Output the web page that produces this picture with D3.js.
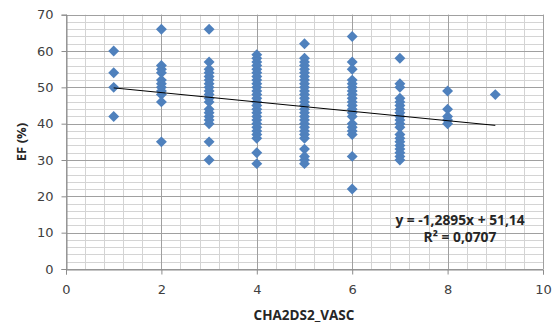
<!DOCTYPE html>
<html>
<head>
<meta charset="utf-8">
<script src="https://cdn.jsdelivr.net/npm/d3@7"></script>
<style>
  html, body { margin: 0; padding: 0; background: #fff; }
  svg { display: block; }
  text { font-family: "Open Sans", sans-serif; }
</style>
</head>
<body>
<svg id="chart" width="554" height="324"></svg>
<script>
// CHA2DS2-VASc score against ejection fraction (EF %)
const scores = [1, 2, 3, 4, 5, 6, 7, 8, 9];
const efByScore = [
  [60, 54, 50, 42],
  [66, 56, 55, 54, 52, 51, 50, 49, 48, 46, 35],
  [66, 57, 55, 54, 53, 52, 51, 50, 49, 48, 47, 46, 44, 43, 42, 41, 40, 35, 30],
  [59, 58, 57, 56, 55, 54, 53, 52, 51, 50, 49, 48, 47, 46, 45, 44, 43, 42, 41, 40, 39, 38, 37, 36, 32, 29],
  [62, 58, 57, 56, 55, 54, 53, 52, 51, 50, 49, 48, 47, 46, 45, 44, 43, 42, 41, 40, 39, 38, 37, 36, 33, 31, 30, 29],
  [64, 57, 55, 52, 51, 50, 49, 48, 47, 46, 45, 44, 43, 42, 40, 39, 38, 37, 31, 22],
  [58, 51, 50, 47, 46, 45, 44, 43, 42, 41, 40, 39, 37, 36, 35, 34, 33, 32, 31, 30],
  [49, 44, 42, 41, 40],
  [48]
];
const xTicks = [0, 2, 4, 6, 8, 10];
const yTicks = [0, 10, 20, 30, 40, 50, 60, 70];
const trendSlope = -1.2895;
const trendIntercept = 51.14;
const trendRange = [1, 9];
const equationLabel = "y = -1,2895x + 51,14";
const r2Label = "R² = 0,0707";
const xTitle = "CHA2DS2_VASC";
const yTitle = "EF (%)";

const points = [];
scores.forEach((s, i) => efByScore[i].forEach(v => points.push({ x: s, y: v })));

const svg = d3.select("#chart");
const plotLeft = 66, plotRight = 543, plotTop = 14.7, plotBottom = 269;

const x = d3.scaleLinear().domain([0, 10]).range([plotLeft, plotRight]);
const y = d3.scaleLinear().domain([0, 70]).range([plotBottom, plotTop]);
const px = v => Math.round(v) + 0.5;

const grid = svg.append("g");
// minor grid
d3.range(0, 70.001, 2).forEach(v => {
  grid.append("line").attr("x1", plotLeft).attr("x2", plotRight)
    .attr("y1", px(y(v))).attr("y2", px(y(v)))
    .attr("stroke", "#d4d4d4").attr("stroke-width", 1);
});
d3.range(0, 10.001, 0.4).forEach(v => {
  grid.append("line").attr("y1", plotTop).attr("y2", plotBottom)
    .attr("x1", px(x(v))).attr("x2", px(x(v)))
    .attr("stroke", "#d4d4d4").attr("stroke-width", 1);
});
// major grid
yTicks.forEach(v => {
  grid.append("line").attr("x1", plotLeft).attr("x2", plotRight)
    .attr("y1", px(y(v))).attr("y2", px(y(v)))
    .attr("stroke", "#a0a0a0").attr("stroke-width", 1);
});
xTicks.forEach(v => {
  grid.append("line").attr("y1", plotTop).attr("y2", plotBottom)
    .attr("x1", px(x(v))).attr("x2", px(x(v)))
    .attr("stroke", "#a0a0a0").attr("stroke-width", 1);
});

// axes
const yAxis = svg.append("g").attr("transform", `translate(${px(plotLeft)},0)`)
  .call(d3.axisLeft(y).tickValues(yTicks).tickSize(5).tickPadding(8).tickFormat(d3.format("d")));
const xAxis = svg.append("g").attr("transform", `translate(0,${px(plotBottom)})`)
  .call(d3.axisBottom(x).tickValues(xTicks).tickSize(5).tickPadding(10).tickFormat(d3.format("d")));
[yAxis, xAxis].forEach(a => {
  a.select(".domain").attr("stroke", "#8c8c8c");
  a.selectAll(".tick line").attr("stroke", "#8c8c8c");
  a.selectAll(".tick text").attr("fill", "#404040").attr("font-size", 13)
    .style("font-family", "'DejaVu Sans', sans-serif");
});

// data points
const diamond = d3.symbol().type(d3.symbolDiamond2).size(76);
svg.append("g").selectAll("path").data(points).join("path")
  .attr("d", diamond)
  .attr("transform", d => `translate(${x(d.x)},${y(d.y)})`)
  .attr("fill", "#4f81bd");

// linear trendline
svg.append("line")
  .attr("x1", x(trendRange[0])).attr("y1", y(trendSlope * trendRange[0] + trendIntercept))
  .attr("x2", x(trendRange[1])).attr("y2", y(trendSlope * trendRange[1] + trendIntercept))
  .attr("stroke", "#000").attr("stroke-width", 1);

// equation
svg.append("text").attr("x", 460).attr("y", 224.5).attr("text-anchor", "middle")
  .attr("font-size", 13.8).attr("font-weight", "bold").attr("fill", "#262626").text(equationLabel);
svg.append("text").attr("x", 460).attr("y", 242).attr("text-anchor", "middle")
  .attr("font-size", 13.8).attr("font-weight", "bold").attr("fill", "#262626").text(r2Label);

// axis titles
svg.append("text").attr("x", 304).attr("y", 320).attr("text-anchor", "middle")
  .attr("font-size", 13.5).attr("font-weight", "bold").attr("fill", "#262626")
  .text(xTitle);
svg.append("text").attr("transform", "translate(26,142) rotate(-90)").attr("text-anchor", "middle")
  .attr("font-size", 13).attr("font-weight", "bold").attr("fill", "#262626")
  .text(yTitle);
</script>
</body>
</html>
